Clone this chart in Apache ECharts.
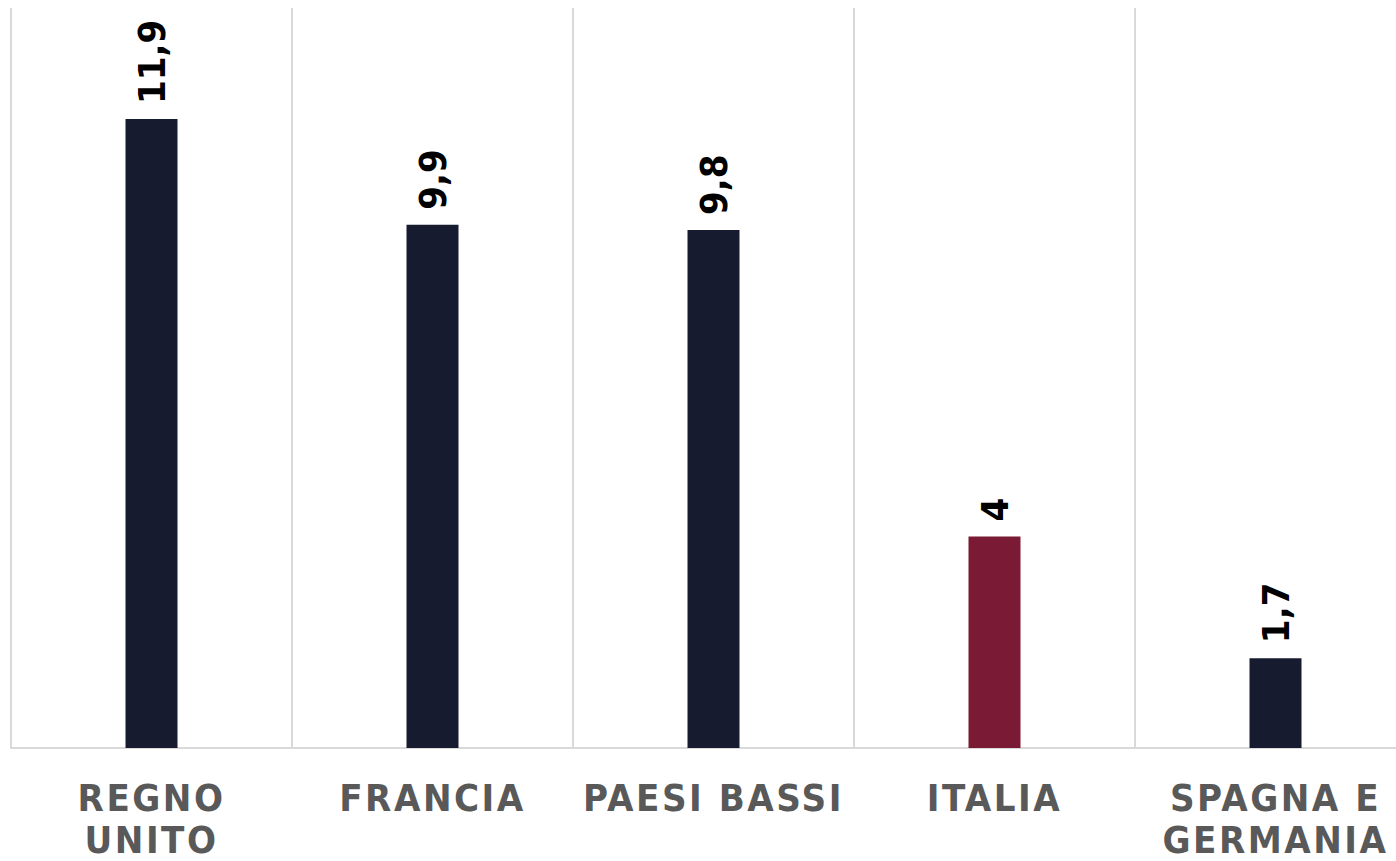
<!DOCTYPE html>
<html>
<head>
<meta charset="utf-8">
<script src="https://cdn.jsdelivr.net/npm/echarts@6/dist/echarts.min.js"></script>
<style>
html,body{margin:0;padding:0;background:#fff;overflow:hidden;width:1396px;height:861px;}
#c{width:1416px;height:861px;}
#c text[fill="#595959"], #c text[style*="595959"]{letter-spacing:2.5px;}
</style>
</head>
<body>
<div id="c"></div>
<script>
var categories = ["REGNO\nUNITO", "FRANCIA", "PAESI BASSI", "ITALIA", "SPAGNA E\nGERMANIA"];
var values = [11.9, 9.9, 9.8, 4, 1.7];
var highlight = "ITALIA";

var chart = echarts.init(document.getElementById('c'), null, {renderer: 'svg'});
chart.setOption({
  animation: false,
  grid: {left: 11, right: 0, top: 8, bottom: 112},
  xAxis: {
    type: 'category',
    data: categories,
    boundaryGap: true,
    axisLine: {show: true, lineStyle: {color: '#d9d9d9', width: 2}},
    axisTick: {show: false},
    splitLine: {show: true, lineStyle: {color: '#d9d9d9', width: 2}},
    axisLabel: {
      interval: 0,
      color: '#595959',
      fontFamily: '"DejaVu Sans Condensed", sans-serif',
      fontWeight: 'bold',
      fontSize: 38,
      lineHeight: 42,
      margin: 29
    }
  },
  yAxis: {
    type: 'value',
    min: 0, max: 14,
    show: false,
    splitLine: {show: false}
  },
  series: [{
    type: 'bar',
    barWidth: 52,
    data: values.map(function(v, i){
      return {value: v, itemStyle: {color: categories[i] === highlight ? '#7B1A35' : '#161B2F'}};
    }),
    label: {
      show: true,
      position: 'top',
      rotate: 90,
      align: 'left',
      verticalAlign: 'middle',
      distance: 15,
      color: '#000000',
      fontFamily: '"DejaVu Sans Condensed", sans-serif',
      fontWeight: 'bold',
      fontSize: 38,
      formatter: function(p){ return String(p.value).replace('.', ','); }
    }
  }]
});
</script>
</body>
</html>
